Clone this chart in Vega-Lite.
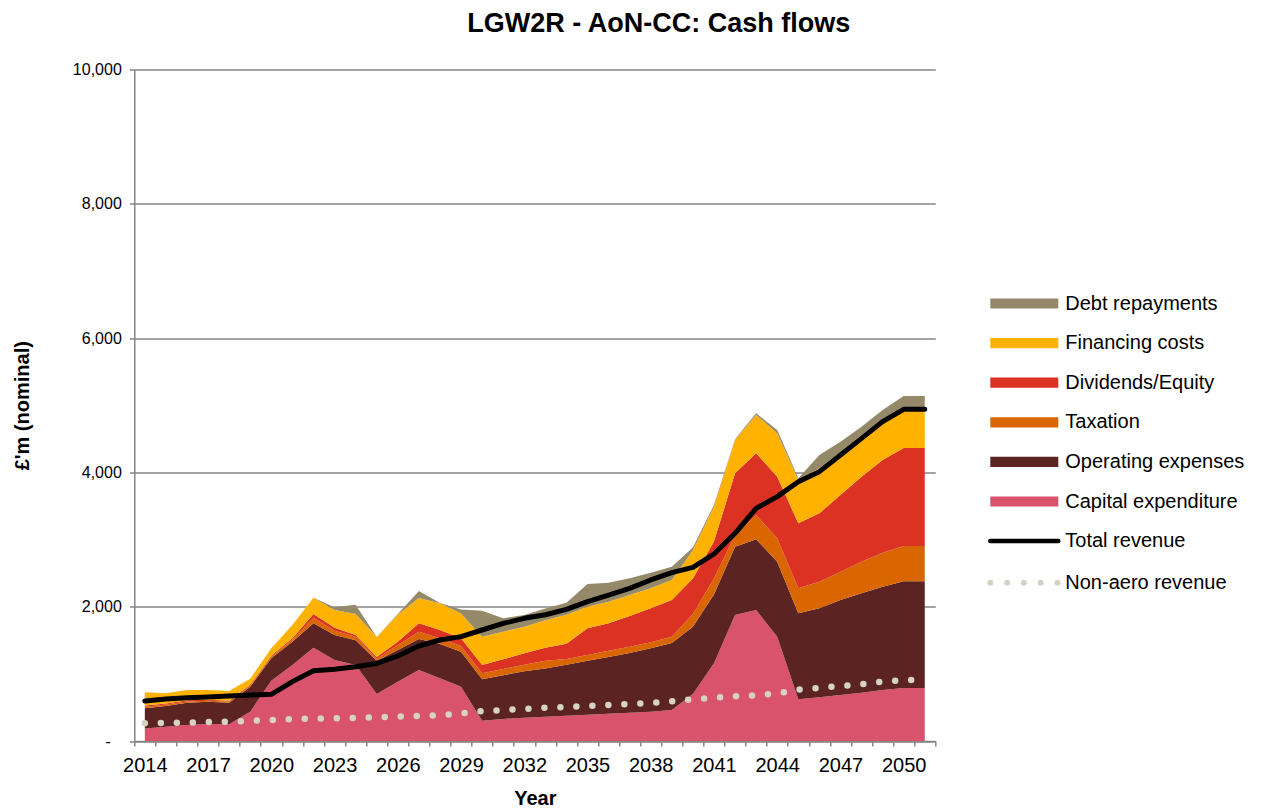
{
  "$schema": "https://vega.github.io/schema/vega-lite/v6.json",
  "width": 801,
  "height": 671.5,
  "autosize": {"type": "none"},
  "padding": {"left": 134.3, "top": 69.5, "right": 330.7, "bottom": 68},
  "background": "white",
  "config": {"font": "Liberation Sans", "view": {"stroke": null}},
  "title": {"text": "LGW2R - AoN-CC: Cash flows", "fontSize": 27, "fontWeight": "bold", "color": "black", "anchor": "middle", "frame": "group", "dx": 124, "offset": 24},
  "data": {"values": [
    {"Year": 2014, "Capex": 185, "Opex": 301, "Tax": 24, "Div": 20, "Fin": 195, "Debt": 0, "Revenue": 596, "NonAero": 263},
    {"Year": 2015, "Capex": 213, "Opex": 308, "Tax": 24, "Div": 15, "Fin": 150, "Debt": 0, "Revenue": 625, "NonAero": 268},
    {"Year": 2016, "Capex": 238, "Opex": 333, "Tax": 19, "Div": 15, "Fin": 155, "Debt": 0, "Revenue": 645, "NonAero": 274},
    {"Year": 2017, "Capex": 253, "Opex": 333, "Tax": 14, "Div": 15, "Fin": 145, "Debt": 0, "Revenue": 655, "NonAero": 282},
    {"Year": 2018, "Capex": 248, "Opex": 323, "Tax": 19, "Div": 10, "Fin": 145, "Debt": 0, "Revenue": 670, "NonAero": 290},
    {"Year": 2019, "Capex": 437, "Opex": 372, "Tax": 21, "Div": 10, "Fin": 88, "Debt": 0, "Revenue": 685, "NonAero": 300},
    {"Year": 2020, "Capex": 898, "Opex": 333, "Tax": 29, "Div": 15, "Fin": 105, "Debt": 0, "Revenue": 695, "NonAero": 313},
    {"Year": 2021, "Capex": 1132, "Opex": 347, "Tax": 31, "Div": 20, "Fin": 197, "Debt": 0, "Revenue": 884, "NonAero": 325},
    {"Year": 2022, "Capex": 1390, "Opex": 362, "Tax": 85, "Div": 54, "Fin": 243, "Debt": 0, "Revenue": 1047, "NonAero": 333},
    {"Year": 2023, "Capex": 1206, "Opex": 373, "Tax": 64, "Div": 45, "Fin": 262, "Debt": 40, "Revenue": 1067, "NonAero": 338},
    {"Year": 2024, "Capex": 1130, "Opex": 370, "Tax": 54, "Div": 25, "Fin": 311, "Debt": 140, "Revenue": 1107, "NonAero": 345},
    {"Year": 2025, "Capex": 700, "Opex": 496, "Tax": 29, "Div": 25, "Fin": 300, "Debt": 0, "Revenue": 1155, "NonAero": 352},
    {"Year": 2026, "Capex": 884, "Opex": 471, "Tax": 75, "Div": 49, "Fin": 401, "Debt": 10, "Revenue": 1266, "NonAero": 362},
    {"Year": 2027, "Capex": 1057, "Opex": 462, "Tax": 109, "Div": 124, "Fin": 378, "Debt": 103, "Revenue": 1415, "NonAero": 372},
    {"Year": 2028, "Capex": 933, "Opex": 511, "Tax": 85, "Div": 124, "Fin": 397, "Debt": 5, "Revenue": 1504, "NonAero": 382},
    {"Year": 2029, "Capex": 809, "Opex": 521, "Tax": 85, "Div": 114, "Fin": 371, "Debt": 60, "Revenue": 1554, "NonAero": 410},
    {"Year": 2030, "Capex": 300, "Opex": 618, "Tax": 90, "Div": 124, "Fin": 422, "Debt": 387, "Revenue": 1653, "NonAero": 447},
    {"Year": 2031, "Capex": 328, "Opex": 652, "Tax": 92, "Div": 144, "Fin": 412, "Debt": 199, "Revenue": 1752, "NonAero": 460},
    {"Year": 2032, "Capex": 347, "Opex": 693, "Tax": 97, "Div": 169, "Fin": 397, "Debt": 173, "Revenue": 1827, "NonAero": 478},
    {"Year": 2033, "Capex": 362, "Opex": 718, "Tax": 115, "Div": 195, "Fin": 410, "Debt": 175, "Revenue": 1880, "NonAero": 495},
    {"Year": 2034, "Capex": 375, "Opex": 760, "Tax": 85, "Div": 230, "Fin": 430, "Debt": 180, "Revenue": 1960, "NonAero": 508},
    {"Year": 2035, "Capex": 390, "Opex": 805, "Tax": 86, "Div": 397, "Fin": 322, "Debt": 338, "Revenue": 2075, "NonAero": 521},
    {"Year": 2036, "Capex": 405, "Opex": 845, "Tax": 95, "Div": 407, "Fin": 323, "Debt": 283, "Revenue": 2174, "NonAero": 535},
    {"Year": 2037, "Capex": 420, "Opex": 890, "Tax": 95, "Div": 457, "Fin": 312, "Debt": 248, "Revenue": 2274, "NonAero": 550},
    {"Year": 2038, "Capex": 437, "Opex": 943, "Tax": 89, "Div": 507, "Fin": 298, "Debt": 233, "Revenue": 2398, "NonAero": 565},
    {"Year": 2039, "Capex": 462, "Opex": 998, "Tax": 94, "Div": 546, "Fin": 298, "Debt": 198, "Revenue": 2507, "NonAero": 590},
    {"Year": 2040, "Capex": 700, "Opex": 1000, "Tax": 190, "Div": 530, "Fin": 420, "Debt": 40, "Revenue": 2586, "NonAero": 620},
    {"Year": 2041, "Capex": 1157, "Opex": 1023, "Tax": 240, "Div": 550, "Fin": 520, "Debt": 25, "Revenue": 2785, "NonAero": 645},
    {"Year": 2042, "Capex": 1876, "Opex": 1018, "Tax": 174, "Div": 918, "Fin": 497, "Debt": 12, "Revenue": 3093, "NonAero": 665},
    {"Year": 2043, "Capex": 1951, "Opex": 1052, "Tax": 363, "Div": 918, "Fin": 571, "Debt": 25, "Revenue": 3465, "NonAero": 680},
    {"Year": 2044, "Capex": 1554, "Opex": 1117, "Tax": 347, "Div": 919, "Fin": 645, "Debt": 50, "Revenue": 3639, "NonAero": 710},
    {"Year": 2045, "Capex": 620, "Opex": 1281, "Tax": 373, "Div": 967, "Fin": 646, "Debt": 25, "Revenue": 3862, "NonAero": 765},
    {"Year": 2046, "Capex": 650, "Opex": 1326, "Tax": 397, "Div": 1017, "Fin": 671, "Debt": 198, "Revenue": 4011, "NonAero": 792},
    {"Year": 2047, "Capex": 685, "Opex": 1415, "Tax": 422, "Div": 1141, "Fin": 646, "Debt": 149, "Revenue": 4259, "NonAero": 820},
    {"Year": 2048, "Capex": 720, "Opex": 1479, "Tax": 472, "Div": 1266, "Fin": 620, "Debt": 124, "Revenue": 4507, "NonAero": 845},
    {"Year": 2049, "Capex": 760, "Opex": 1538, "Tax": 507, "Div": 1380, "Fin": 595, "Debt": 149, "Revenue": 4756, "NonAero": 885},
    {"Year": 2050, "Capex": 789, "Opex": 1589, "Tax": 526, "Div": 1459, "Fin": 566, "Debt": 209, "Revenue": 4939, "NonAero": 905},
    {"Year": 2051, "Capex": 789, "Opex": 1589, "Tax": 526, "Div": 1459, "Fin": 566, "Debt": 209, "Revenue": 4939, "NonAero": 910}
  ]},
  "transform": [
    {"fold": ["Capex", "Opex", "Tax", "Div", "Fin", "Debt", "Revenue", "NonAero"], "as": ["Series", "Value"]}
  ],
  "encoding": {
    "x": {
      "field": "Year", "type": "quantitative",
      "scale": {"domain": [2013.5, 2051.5], "nice": false, "zero": false},
      "axis": {
        "values": [2013.5, 2014.5, 2015.5, 2016.5, 2017.5, 2018.5, 2019.5, 2020.5, 2021.5, 2022.5, 2023.5, 2024.5, 2025.5, 2026.5, 2027.5, 2028.5, 2029.5, 2030.5, 2031.5, 2032.5, 2033.5, 2034.5, 2035.5, 2036.5, 2037.5, 2038.5, 2039.5, 2040.5, 2041.5, 2042.5, 2043.5, 2044.5, 2045.5, 2046.5, 2047.5, 2048.5, 2049.5, 2050.5, 2051.5],
        "labelExpr": "((datum.value + 0.5 - 2014) % 3 === 0) ? format(datum.value + 0.5, 'd') : ''",
        "labelOffset": 10.54,
        "labelFlush": false,
        "labelOverlap": false,
        "labelFontSize": 20,
        "labelColor": "black",
        "labelPadding": 9,
        "grid": false,
        "domainColor": "#868686",
        "domainWidth": 1.5,
        "tickColor": "#868686",
        "tickWidth": 1.5,
        "tickSize": 5,
        "title": "Year",
        "titleFontSize": 20,
        "titleFontWeight": "bold",
        "titleColor": "black",
        "titleY": 57,
        "titleBaseline": "middle"
      }
    },
    "y": {
      "field": "Value", "type": "quantitative",
      "scale": {"domain": [0, 10000], "nice": false},
      "axis": {
        "values": [0, 2000, 4000, 6000, 8000, 10000],
        "labelExpr": "datum.value === 0 ? '-' : format(datum.value, ',')",
        "labelFontSize": 16,
        "labelColor": "black",
        "labelPadding": {"condition": {"test": "datum.value === 0", "value": 19}, "value": 8},
        "domainColor": "#868686",
        "domainWidth": 1.5,
        "tickColor": "#868686",
        "tickWidth": 1.5,
        "tickSize": 5,
        "gridColor": "#868686",
        "gridWidth": 1.5,
        "title": "£'m (nominal)",
        "titleFontSize": 20,
        "titleFontWeight": "bold",
        "titleColor": "black",
        "titleX": -112,
        "titleY": 335.75,
        "titleAngle": -90,
        "titleAlign": "center",
        "titleBaseline": "middle"
      }
    },
    "color": {
      "field": "Series", "type": "nominal",
      "scale": {
        "domain": ["Debt", "Fin", "Div", "Tax", "Opex", "Capex", "Revenue", "NonAero"],
        "range": ["#948A6A", "#FFB300", "#DC3223", "#D96600", "#5B2321", "#D9536C", "#000000", "#D6D2C5"]
      },
      "legend": {
        "orient": "none",
        "legendX": 880,
        "legendY": 224,
        "title": null,
        "padding": 0,
        "labelFontSize": 20,
        "labelColor": "black",
        "labelFont": "Liberation Sans",
        "labelLimit": 400,
        "symbolSize": 185,
        "symbolType": "square",
        "symbolOpacity": 1,
        "labelOffset": 31,
        "rowPadding": 19.6,
        "labelExpr": "datum.value === 'Debt' ? 'Debt repayments' : datum.value === 'Fin' ? 'Financing costs' : datum.value === 'Div' ? 'Dividends/Equity' : datum.value === 'Tax' ? 'Taxation' : datum.value === 'Opex' ? 'Operating expenses' : datum.value === 'Capex' ? 'Capital expenditure' : datum.value === 'Revenue' ? 'Total revenue' : 'Non-aero revenue'",
        "encode": {
          "symbols": {
            "update": {
              "shape": {"signal": "indexof(['Revenue','NonAero'], datum.value) >= 0 ? 'M-5,0L5,0' : 'M-5,-0.75L5,-0.75L5,0.75L-5,0.75Z'"},
              "fill": {"signal": "indexof(['Revenue','NonAero'], datum.value) >= 0 ? 'transparent' : scale('color', datum.value)"},
              "stroke": {"signal": "indexof(['Revenue','NonAero'], datum.value) >= 0 ? scale('color', datum.value) : 'transparent'"},
              "strokeWidth": {"signal": "datum.value === 'Revenue' ? 4.5 : datum.value === 'NonAero' ? 6 : 0"},
              "strokeDash": {"signal": "datum.value === 'NonAero' ? [0, 16.8] : [1, 0]"},
              "strokeCap": {"value": "round"},
              "opacity": {"value": 1}
            }
          }
        }
      }
    }
  },
  "layer": [
    {
      "transform": [
        {"filter": {"field": "Series", "oneOf": ["Capex", "Opex", "Tax", "Div", "Fin", "Debt"]}},
        {"calculate": "indexof(['Capex','Opex','Tax','Div','Fin','Debt'], datum.Series)", "as": "StackRank"}
      ],
      "mark": {"type": "area", "opacity": 1},
      "encoding": {
        "order": {"field": "StackRank", "type": "quantitative", "sort": "ascending"}
      }
    },
    {
      "transform": [{"filter": {"field": "Series", "equal": "NonAero"}}],
      "mark": {"type": "line", "strokeWidth": 6.5, "strokeDash": [0, 16], "strokeCap": "round"}
    },
    {
      "transform": [{"filter": {"field": "Series", "equal": "Revenue"}}],
      "mark": {"type": "line", "strokeWidth": 5, "strokeCap": "round", "strokeJoin": "round"}
    }
  ]
}
